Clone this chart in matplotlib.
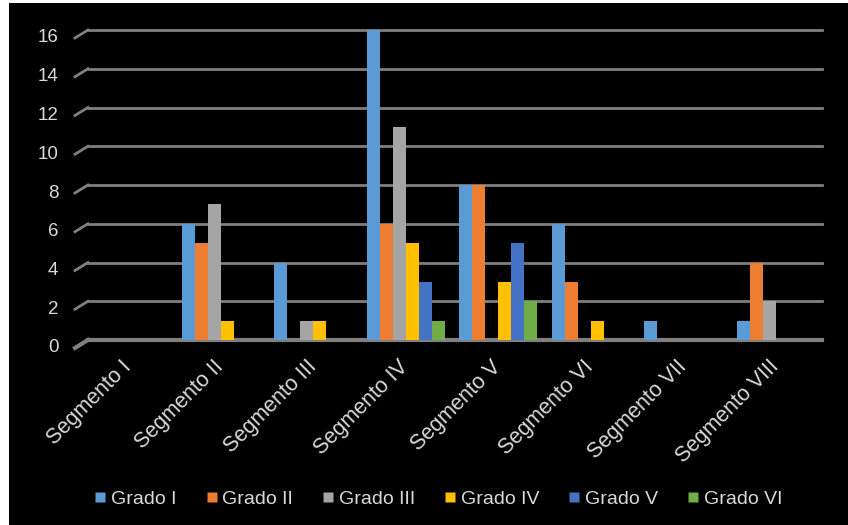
import matplotlib.pyplot as plt
from matplotlib.patches import Rectangle
from matplotlib.lines import Line2D
import numpy as np

plt.rcParams['font.family'] = ['Liberation Sans', 'DejaVu Sans']

segmentos = ['Segmento I', 'Segmento II', 'Segmento III', 'Segmento IV',
             'Segmento V', 'Segmento VI', 'Segmento VII', 'Segmento VIII']
grados = ['Grado I', 'Grado II', 'Grado III', 'Grado IV', 'Grado V', 'Grado VI']

grado_1 = [0, 6, 4, 16, 8, 6, 1, 1]
grado_2 = [0, 5, 0, 6, 8, 3, 0, 4]
grado_3 = [0, 7, 1, 11, 0, 0, 0, 2]
grado_4 = [0, 1, 1, 5, 3, 1, 0, 0]
grado_5 = [0, 0, 0, 3, 5, 0, 0, 0]
grado_6 = [0, 0, 0, 1, 2, 0, 0, 0]
series = [grado_1, grado_2, grado_3, grado_4, grado_5, grado_6]

colores = ['#5B9BD5', '#ED7D31', '#A5A5A5', '#FFC000', '#4472C4', '#70AD47']
yticks = [0, 2, 4, 6, 8, 10, 12, 14, 16]
texto = '#D9D9D9'
rejilla = '#7F7F7F'

fig = plt.figure(figsize=(8.48, 5.25), dpi=100, facecolor='white')
fig.patches.append(Rectangle((9 / 848, 0), 1, 1 - 3 / 525, transform=fig.transFigure,
                             facecolor='black', edgecolor='none', zorder=-1))

ax = fig.add_axes([82 / 848, (525 - 340) / 525, 740 / 848, 310 / 525])
ax.set_facecolor('none')
for s in ax.spines.values():
    s.set_visible(False)

ax.set_xlim(-0.5, len(segmentos) - 0.5)
ax.set_ylim(0, 16)

# lineas de la pared del fondo con el pequeño tramo inclinado del piso
tr = ax.get_yaxis_transform()
caida = 8 / 310 * 16
for v in yticks:
    lw = 3 if v == 0 else 2
    ax.plot([0.008, 1], [v, v], transform=tr, color=rejilla, lw=lw, zorder=0, clip_on=False)
    ax.plot([-0.0095, 0.008], [v - caida, v], transform=tr, color=rejilla, lw=lw,
            zorder=0, clip_on=False)
    ax.text(-0.032, v - caida, str(v), transform=tr, ha='right', va='center',
            color=texto, fontsize=13.5)

x = np.arange(len(segmentos))
ancho = 0.14
for i, (vals, c) in enumerate(zip(series, colores)):
    ax.bar(x + (i - 2.5) * ancho, vals, width=ancho, color=c, zorder=2)

ax.set_yticks([])
ax.set_xticks(x)
ax.set_xticklabels(segmentos, rotation=45, ha='right', va='center',
                   rotation_mode='anchor', color=texto, fontsize=15.5)
ax.tick_params(axis='x', length=0, pad=17)

handles = [Line2D([], [], marker='s', linestyle='none', markersize=7,
                  markerfacecolor=c, markeredgecolor='none') for c in colores]
fig.legend(handles, grados, loc='center', bbox_to_anchor=(0.517, 1 - 499 / 525),
           ncol=6, frameon=False, fontsize=14, labelcolor=texto,
           handlelength=0.6, handletextpad=0.25, columnspacing=1.5)

fig.savefig('out.png', dpi=100, facecolor=fig.get_facecolor())
